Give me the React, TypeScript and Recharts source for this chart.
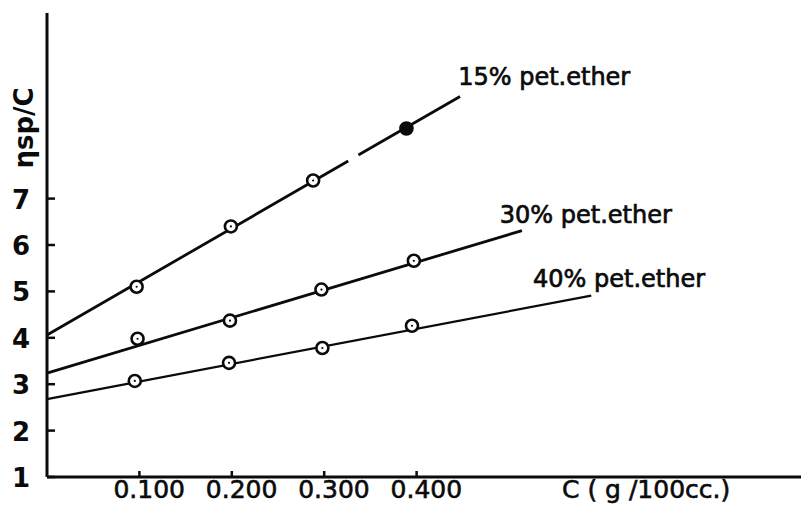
import React from "react";
import {
  ComposedChart,
  Line,
  Scatter,
  XAxis,
  YAxis,
} from "recharts";

const CONC_TICKS = [0.1, 0.2, 0.3, 0.4];
const CONC_TICK_LABELS = ["0.100", "0.200", "0.300", "0.400"];
const ETA_TICKS = [1, 2, 3, 4, 5, 6, 7];

// measured points (hand plotted, so c is a bit off the nominal ticks)
const conc15 = [0.097, 0.199, 0.288, 0.389];
const eta15 = [5.1, 6.4, 7.39, 8.51];
const conc30 = [0.098, 0.198, 0.297, 0.397];
const eta30 = [3.98, 4.37, 5.04, 5.66];
const conc40 = [0.095, 0.197, 0.298, 0.395];
const eta40 = [3.07, 3.46, 3.78, 4.26];

// fitted lines; the 15% line has a small break in the original print
const fitConc15 = [0, 0.326, 0.331, 0.337, 0.447];
const fitEta15 = [4.06, 7.81, null, 7.94, 9.2];
const fitConc30 = [0, 0.514];
const fitEta30 = [3.24, 6.31];
const fitConc40 = [0, 0.589];
const fitEta40 = [2.68, 4.91];

const seriesNames = ["15% pet.ether", "30% pet.ether", "40% pet.ether"];
const labelConc = [0.445, 0.49, 0.526];
const labelEta = [9.44, 6.48, 5.1];

const FONT = "'DejaVu Sans', sans-serif";
const INK = "#0b0b0b";

const zip = (cs: number[], vs: (number | null)[]) =>
  cs.map((c, i) => ({ c, v: vs[i] }));

const points15 = zip(conc15, eta15);
const points30 = zip(conc30, eta30);
const points40 = zip(conc40, eta40);
const labels = seriesNames.map((text, i) => ({
  c: labelConc[i],
  v: labelEta[i],
  text,
}));

function YTick(props: any) {
  const { x, y, payload } = props;
  return (
    <g>
      <line x1={x} x2={x + 8} y1={y} y2={y} stroke={INK} strokeWidth={2.5} />
      <text
        x={12}
        y={y + 10}
        fontFamily={FONT}
        fontWeight="bold"
        fontSize={26}
        fill={INK}
      >
        {payload.value}
      </text>
    </g>
  );
}

function XTick(props: any) {
  const { x, y, payload, index } = props;
  return (
    <g>
      <line x1={x} x2={x} y1={y} y2={y - 6} stroke={INK} strokeWidth={2.5} />
      <text
        x={x - 26}
        y={y + 21}
        fontFamily={FONT}
        fontSize={25}
        fill={INK}
        stroke={INK}
        strokeWidth={0.6}
      >
        {CONC_TICK_LABELS[index] ?? payload.value}
      </text>
    </g>
  );
}

function makeMarker(filledLast: boolean, count: number) {
  return (props: any) => {
    const { cx, cy, index } = props;
    const filled = filledLast && index === count - 1;
    return (
      <g>
        <circle
          cx={cx}
          cy={cy}
          r={6}
          fill={filled ? INK : "#fff"}
          stroke={INK}
          strokeWidth={2.6}
        />
        {!filled && <circle cx={cx} cy={cy} r={1.1} fill={INK} />}
      </g>
    );
  };
}

function SeriesLabel(props: any) {
  const { cx, cy, payload } = props;
  return (
    <text
      x={cx}
      y={cy}
      fontFamily={FONT}
      fontSize={24}
      fill={INK}
      stroke={INK}
      strokeWidth={0.7}
    >
      {payload.text}
    </text>
  );
}

function XLabel(props: any) {
  const { viewBox } = props;
  return (
    <text
      x={viewBox.x + 515}
      y={viewBox.y + 21}
      fontFamily={FONT}
      fontSize={25}
      fill={INK}
      stroke={INK}
      strokeWidth={0.6}
    >
      C ( g /100cc.)
    </text>
  );
}

function YLabel() {
  return (
    <text
      x={33}
      y={128}
      transform="rotate(-90, 33, 128)"
      textAnchor="middle"
      fontFamily={FONT}
      fontWeight="bold"
      fontSize={26}
      fill={INK}
    >
      ηsp/C
    </text>
  );
}

export default function App() {
  return (
    <div style={{ position: "absolute", left: 0, top: 0, background: "#fff" }}>
      <ComposedChart
        width={801}
        height={506}
        margin={{ top: 13, right: 0, bottom: 0, left: 0 }}
      >
        <XAxis
          type="number"
          dataKey="c"
          domain={[0, 0.816]}
          ticks={CONC_TICKS}
          height={29}
          tickSize={0}
          tickMargin={0}
          tickLine={false}
          axisLine={{ stroke: INK, strokeWidth: 3 }}
          tick={<XTick />}
          label={<XLabel />}
          interval={0}
        />
        <YAxis
          type="number"
          dataKey="v"
          domain={[1, 11]}
          ticks={ETA_TICKS}
          width={47}
          tickSize={0}
          tickMargin={0}
          tickLine={false}
          axisLine={{ stroke: INK, strokeWidth: 3 }}
          tick={<YTick />}
          label={<YLabel />}
          interval={0}
        />
        <Line
          data={zip(fitConc15, fitEta15)}
          dataKey="v"
          type="linear"
          stroke={INK}
          strokeWidth={2.8}
          dot={false}
          connectNulls={false}
          isAnimationActive={false}
        />
        <Line
          data={zip(fitConc30, fitEta30)}
          dataKey="v"
          type="linear"
          stroke={INK}
          strokeWidth={2.8}
          dot={false}
          isAnimationActive={false}
        />
        <Line
          data={zip(fitConc40, fitEta40)}
          dataKey="v"
          type="linear"
          stroke={INK}
          strokeWidth={2.2}
          dot={false}
          isAnimationActive={false}
        />
        <Scatter
          data={points15}
          shape={makeMarker(true, points15.length)}
          isAnimationActive={false}
        />
        <Scatter
          data={points30}
          shape={makeMarker(false, points30.length)}
          isAnimationActive={false}
        />
        <Scatter
          data={points40}
          shape={makeMarker(false, points40.length)}
          isAnimationActive={false}
        />
        <Scatter data={labels} shape={<SeriesLabel />} isAnimationActive={false} />
      </ComposedChart>
    </div>
  );
}
